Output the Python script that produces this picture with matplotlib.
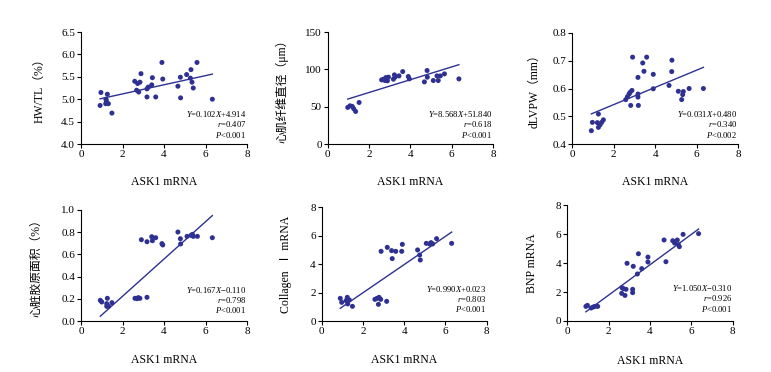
import matplotlib
matplotlib.use("Agg")
import matplotlib.pyplot as plt
import numpy as np

plt.rcParams['font.family'] = ['Liberation Serif', 'Noto Sans CJK SC', 'DejaVu Sans']
plt.rcParams['mathtext.fontset'] = 'custom'
plt.rcParams['mathtext.rm'] = 'Liberation Serif'
plt.rcParams['mathtext.it'] = 'Liberation Serif:italic'

DOT = '#2E3192'

# ---- data ----
x_hw = [0.92, 0.96, 1.19, 1.20, 1.27, 1.32, 1.22, 1.49, 2.59, 2.68, 2.73, 2.78, 2.84, 2.89, 3.18, 3.18, 3.24, 3.41,
        3.44, 3.60, 3.90, 3.94, 4.67, 4.79, 4.80, 5.09, 5.27, 5.30, 5.35, 5.41, 5.59, 6.33]
y_hw = [4.86, 5.15, 4.90, 5.00, 5.11, 4.90, 4.97, 4.69, 5.40, 5.20, 5.35, 5.16, 5.38, 5.57, 5.23, 5.05, 5.27, 5.32,
        5.48, 5.05, 5.82, 5.45, 5.29, 5.49, 5.03, 5.55, 5.47, 5.66, 5.38, 5.25, 5.82, 5.00]

x_fd = [0.97, 1.08, 1.19, 1.26, 1.35, 1.52, 2.61, 2.71, 2.77, 2.82, 2.89, 2.94, 3.18, 3.23, 3.26, 3.45, 3.63,
        3.90, 3.95, 4.68, 4.81, 4.82, 5.11, 5.29, 5.35, 5.45, 5.65, 6.35]
y_fd = [49.0, 51.2, 50.3, 47.2, 43.6, 55.6, 85.9, 86.8, 85.0, 89.0, 84.6, 89.5, 86.8, 92.6, 89.5, 91.2, 97.0,
        90.4, 87.2, 83.2, 98.4, 89.5, 85.0, 91.2, 85.0, 91.2, 93.9, 87.2]

x_lv = [0.92, 0.97, 1.21, 1.26, 1.26, 1.34, 1.42, 1.50, 2.58, 2.66, 2.74, 2.79, 2.82, 2.88, 2.91, 3.17, 3.17,
        3.17, 3.19, 3.40, 3.46, 3.59, 3.91, 3.91, 4.67, 4.81, 4.80, 5.12, 5.28, 5.33, 5.36, 5.64, 6.33]
y_lv = [0.448, 0.478, 0.477, 0.508, 0.460, 0.469, 0.478, 0.487, 0.560, 0.570, 0.580, 0.586, 0.539, 0.593, 0.713,
        0.640, 0.569, 0.580, 0.539, 0.692, 0.662, 0.713, 0.651, 0.599, 0.611, 0.702, 0.661, 0.590, 0.560, 0.578,
        0.589, 0.600, 0.600]

x_ca = [0.93, 1.00, 1.24, 1.27, 1.24, 1.33, 1.49, 2.60, 2.71, 2.76, 2.84, 3.18, 2.91, 3.18, 3.41, 3.44, 3.60,
        3.90, 3.94, 4.67, 4.79, 4.80, 5.11, 5.30, 5.37, 5.41, 5.61, 6.33]
y_ca = [0.188, 0.173, 0.158, 0.206, 0.134, 0.134, 0.167, 0.206, 0.203, 0.212, 0.206, 0.215, 0.731, 0.713, 0.758,
        0.722, 0.749, 0.696, 0.684, 0.800, 0.740, 0.693, 0.761, 0.770, 0.779, 0.761, 0.761, 0.749]

x_co = [0.90, 0.97, 1.18, 1.24, 1.26, 1.34, 1.49, 2.58, 2.68, 2.75, 2.78, 2.86, 2.88, 3.15, 3.18, 3.39, 3.42,
        3.59, 3.88, 3.91, 4.65, 4.75, 4.78, 5.07, 5.23, 5.30, 5.38, 5.57, 6.30]
y_co = [1.61, 1.33, 1.45, 1.68, 1.22, 1.50, 1.05, 1.54, 1.61, 1.19, 1.68, 1.54, 4.91, 1.40, 5.19, 4.96, 4.40,
        4.91, 4.91, 5.40, 5.01, 4.65, 4.30, 5.47, 5.43, 5.52, 5.43, 5.80, 5.47]

x_bn = [0.90, 0.97, 1.15, 1.26, 1.34, 1.47, 2.65, 2.63, 2.71, 2.79, 2.84, 2.89, 3.16, 3.16, 3.19, 3.39, 3.44,
        3.60, 3.90, 3.90, 4.68, 4.77, 5.10, 5.19, 5.32, 5.37, 5.42, 5.60, 6.35]
y_bn = [1.01, 1.08, 0.90, 0.97, 1.01, 1.01, 2.30, 1.91, 2.24, 1.77, 2.19, 3.99, 2.19, 1.96, 3.78, 3.25, 4.65,
        3.62, 4.42, 4.08, 5.60, 4.10, 5.55, 5.39, 5.60, 5.28, 5.14, 5.99, 6.04]

slopes = [0.102, 8.568, 0.031, 0.167, 0.990, 1.050]
intercepts = [4.914, 51.840, 0.480, -0.110, 0.023, -0.310]
eq_texts = [r'$Y$=0.102$X$+4.914', r'$Y$=8.568$X$+51.840', r'$Y$=0.031$X$+0.480',
            r'$Y$=0.167$X$−0.110', r'$Y$=0.990$X$+0.023', r'$Y$=1.050$X$−0.310']
r_texts = [r'$r$=0.407', r'$r$=0.618', r'$r$=0.340', r'$r$=0.798', r'$r$=0.803', r'$r$=0.926']
p_texts = [r'$P$<0.001', r'$P$<0.001', r'$P$<0.002', r'$P$<0.001', r'$P$<0.001', r'$P$<0.001']

ylabels = ['HW/TL（%）', '心肌纤维直径（μm）', 'dLVPW（mm）', '心脏胶原面积（%）', 'Collagen  Ⅰ mRNA', 'BNP mRNA']
xlabel = 'ASK1 mRNA'
xticks = [0, 2, 4, 6, 8]
ylims = [(4.0, 6.5), (0, 150), (0.4, 0.8), (0, 1.0), (0, 8), (0, 8)]
yticks = [[4.0, 4.5, 5.0, 5.5, 6.0, 6.5], [0, 50, 100, 150], [0.4, 0.5, 0.6, 0.7, 0.8],
          [0, 0.2, 0.4, 0.6, 0.8, 1.0], [0, 2, 4, 6, 8], [0, 2, 4, 6, 8]]
yfmt = ['{:.1f}', '{:.0f}', '{:.1f}', '{:.1f}', '{:.0f}', '{:.0f}']

xs = [x_hw, x_fd, x_lv, x_ca, x_co, x_bn]
ys = [y_hw, y_fd, y_lv, y_ca, y_co, y_bn]

W, H = 771, 372
# axes boxes in pixels: left, top, right, bottom
boxes = [(81, 32, 247, 144), (327.7, 32, 493, 144), (572.3, 33, 738, 144),
         (81, 209.7, 247, 321.3), (321.7, 207.3, 486.7, 321.3), (567.3, 205.3, 732.7, 321)]
ylab_x = [-0.213, -0.238, -0.189, -0.231, -0.178, -0.175]
txt_y = [[0.27, 0.176, 0.08]] * 3 + [[0.28, 0.19, 0.098], [0.283, 0.196, 0.108], [0.283, 0.196, 0.108]]

fig = plt.figure(figsize=(W / 100, H / 100), dpi=100)
for i in range(6):
    l, t, r, b = boxes[i]
    ax = fig.add_axes([l / W, 1 - b / H, (r - l) / W, (b - t) / H])
    x = np.array(xs[i]); y = np.array(ys[i])
    ax.scatter(x, y, s=13, color=DOT, edgecolors='none', zorder=3, clip_on=False)
    xx = np.array([x.min(), x.max()])
    ax.plot(xx, slopes[i] * xx + intercepts[i], color=DOT, lw=1.0, zorder=2)
    ax.set_xlim(0, 8)
    ax.set_ylim(*ylims[i])
    ax.set_xticks(xticks)
    ax.set_xticklabels([str(v) for v in xticks])
    ax.set_yticks(yticks[i])
    ax.set_yticklabels([yfmt[i].format(v) for v in yticks[i]])
    for s in ['top', 'right']:
        ax.spines[s].set_visible(False)
    for s in ['left', 'bottom']:
        ax.spines[s].set_linewidth(0.8)
        ax.spines[s].set_color('black')
    ax.tick_params(direction='out', length=2.8, width=0.8, labelsize=8, pad=1.5, colors='black')
    ax.set_xlabel(xlabel, fontsize=8.5)
    ax.xaxis.set_label_coords(0.5, -0.29)
    ax.set_ylabel(ylabels[i], fontsize=8.5)
    ax.yaxis.set_label_coords(ylab_x[i], 0.5)
    for txt, yy in zip([eq_texts[i], r_texts[i], p_texts[i]], txt_y[i]):
        ax.text(0.995, yy, txt, transform=ax.transAxes, ha='right', va='center', fontsize=6.2)

fig.savefig('out.png', dpi=100)
